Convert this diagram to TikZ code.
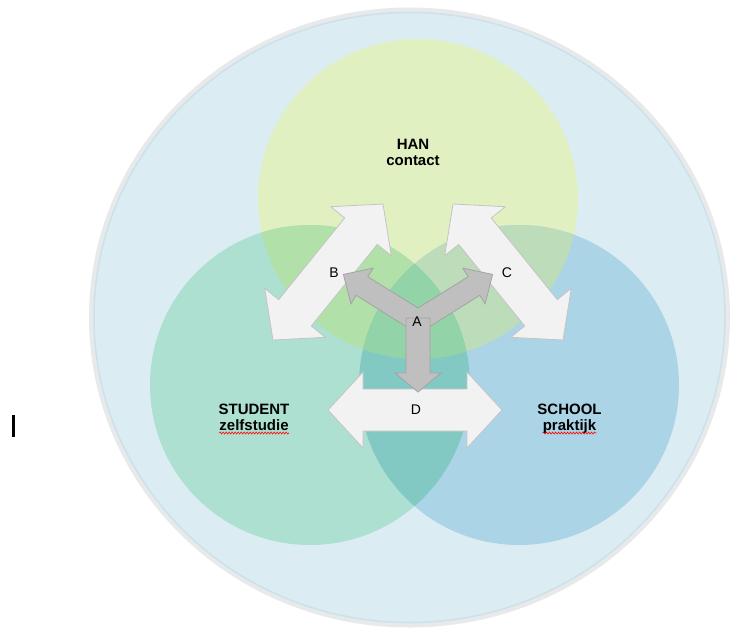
\documentclass[tikz,border=0pt]{standalone}
\usepackage{fontspec}
\setmainfont{Liberation Sans}
\usetikzlibrary{decorations.pathmorphing}
\definecolor{ringgray}{HTML}{E7E9EA}
\definecolor{bgblue}{HTML}{DBEDF3}
\definecolor{bgedge}{HTML}{CCE1E9}
\definecolor{hancol}{HTML}{E0F0C1}
\definecolor{stucol}{HTML}{ADE0D1}
\definecolor{schcol}{HTML}{ACD4E7}
\definecolor{hanstu}{HTML}{B1E1A9}
\definecolor{hansch}{HTML}{BCDCBA}
\definecolor{stusch}{HTML}{82C9C3}
\definecolor{allthree}{HTML}{93D3A8}
\definecolor{whitearrow}{HTML}{F2F2F2}
\definecolor{whiteedge}{HTML}{C4C4C4}
\definecolor{grayarrow}{HTML}{BFBFBF}
\definecolor{grayedge}{HTML}{A3A3A3}
\tikzset{
  wharrow/.style={fill=whitearrow, draw=whiteedge, line width=0.8pt, line join=miter},
  grarrow/.style={fill=grayarrow, draw=grayedge, line width=0.8pt, line join=miter},
  title/.style={font=\fontsize{15}{16}\selectfont\bfseries, inner sep=0pt, anchor=base},
  letter/.style={font=\fontsize{14}{16}\selectfont, inner sep=0pt, anchor=base},
  squiggle/.style={draw=red, line width=0.6pt, decorate, decoration={snake, segment length=3pt, amplitude=1pt}}
}
\begin{document}
\begin{tikzpicture}[x=1pt,y=-1pt]
\useasboundingbox (0,0) rectangle (732,630);
\fill[white] (0,0) rectangle (732,630);
% outer circle
\fill[ringgray] (409.5,317.5) ellipse [x radius=320.5pt, y radius=310pt];
\fill[bgblue, draw=bgedge, line width=1.5pt] (409.5,317.5) ellipse [x radius=315.5pt, y radius=305pt];
% three circles
\coordinate (han) at (418,199);
\coordinate (stu) at (310,385);
\coordinate (sch) at (519,385);
\fill[hancol] (han) circle [radius=160pt];
\fill[stucol] (stu) circle [radius=160pt];
\fill[schcol] (sch) circle [radius=160pt];
\begin{scope}
  \clip (han) circle [radius=160pt];
  \fill[hanstu] (stu) circle [radius=160pt];
\end{scope}
\begin{scope}
  \clip (han) circle [radius=160pt];
  \fill[hansch] (sch) circle [radius=160pt];
\end{scope}
\begin{scope}
  \clip (stu) circle [radius=160pt];
  \fill[stusch] (sch) circle [radius=160pt];
\end{scope}
\begin{scope}
  \clip (han) circle [radius=160pt];
  \clip (stu) circle [radius=160pt];
  \fill[allthree] (sch) circle [radius=160pt];
\end{scope}
% white double arrows
\draw[wharrow] (383,204) -- (391.3,255.7) -- (377.3,244.4) -- (311.3,326.0) -- (325.3,337.3)
  -- (273,340) -- (264.7,288.3) -- (278.7,299.6) -- (344.7,218.0) -- (330.7,206.7) -- cycle;
\draw[wharrow] (453,204) -- (444.7,255.7) -- (458.7,244.4) -- (524.7,326.0) -- (510.7,337.3)
  -- (563,340) -- (571.3,288.3) -- (557.3,299.6) -- (491.3,218.0) -- (505.3,206.7) -- cycle;
\draw[wharrow] (328,410) -- (363,372) -- (363,389) -- (467,389) -- (467,372) -- (502,410)
  -- (467,448) -- (467,431) -- (363,431) -- (363,448) -- cycle;
% gray Y arrow
\draw[grarrow] (343.4,274.4) -- (373.1,268.2) -- (367.8,276.7) -- (418,308) -- (468.2,276.7)
  -- (462.9,268.2) -- (492.6,274.4) -- (485.1,303.8) -- (479.8,295.3) -- (418,334)
  -- (356.2,295.3) -- (350.9,303.8) -- cycle;
% gray down arrow
\draw[grarrow] (406,318) -- (430,318) -- (430,373) -- (441,373) -- (418,392) -- (395,373) -- (406,373) -- cycle;
% titles
\node[title] (hanA) at (413,149) {HAN};
\node[title] (hanB) at (413,165) {contact};
\node[title] (stuA) at (254,414) {STUDENT};
\node[title] (stuB) at (254,430) {zelfstudie};
\node[title] (schA) at (569.5,414) {SCHOOL};
\node[title] (schB) at (569.5,430) {praktijk};
\draw[squiggle] ([yshift=-3pt]stuB.base west) -- ([yshift=-3pt]stuB.base east);
\draw[squiggle] ([yshift=-3pt]schB.base west) -- ([yshift=-3pt]schB.base east);
% letters
\node[letter] (la) at (417,326) {A};
\node[letter] (lb) at (334,277) {B};
\node[letter] (lc) at (507,277) {C};
\node[letter] (ld) at (416,414) {D};
% cursor bar
\fill[black] (11.5,415) rectangle (14.5,437);
\end{tikzpicture}
\end{document}
